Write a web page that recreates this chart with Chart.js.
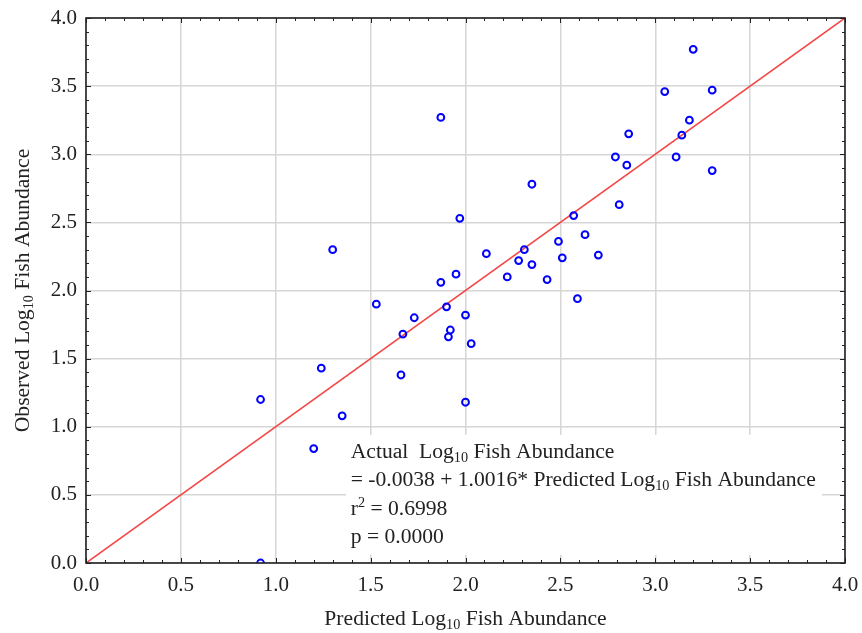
<!DOCTYPE html>
<html>
<head>
<meta charset="utf-8">
<script src="https://cdn.jsdelivr.net/npm/chart.js@4.4.1/dist/chart.umd.min.js"></script>
<style>
  html, body { margin: 0; padding: 0; background: #fff; }
  #wrap { width: 862px; height: 633px; }
</style>
</head>
<body>
<div id="wrap"><canvas id="fishChart"></canvas></div>
<script>
// predicted vs observed log10 fish abundance
const predicted = [3.20, 3.05, 3.30, 3.18, 3.14, 2.86, 2.79, 2.85, 3.11, 3.30,
                   1.87, 2.35, 2.81, 2.57, 1.97, 2.63, 2.49, 2.31, 2.11, 2.70,
                   2.28, 2.51, 2.35, 2.22, 2.43, 1.95, 1.87, 2.59, 1.90, 2.00,
                   1.30, 1.53, 1.73, 1.67, 1.24, 1.66, 0.92, 1.35, 1.20, 0.92,
                   1.92, 1.91, 2.03, 2.00];
const observed  = [3.77, 3.46, 3.47, 3.25, 3.14, 3.15, 2.98, 2.92, 2.98, 2.88,
                   3.27, 2.78, 2.63, 2.55, 2.53, 2.41, 2.36, 2.30, 2.27, 2.26,
                   2.22, 2.24, 2.19, 2.10, 2.08, 2.12, 2.06, 1.94, 1.88, 1.82,
                   2.30, 1.90, 1.80, 1.68, 1.43, 1.38, 1.20, 1.08, 0.84, 0.00,
                   1.71, 1.66, 1.61, 1.18];
// fitted line end points
const fitX = [0, 4];
const fitY = [0, 4];

const axisMin = 0;
const axisMax = 4;
const axisStep = 0.5;

const xTitle = [['Predicted Log'], ['10', 'sub'], [' Fish Abundance']];
const yTitle = [['Observed Log'], ['10', 'sub'], [' Fish Abundance']];
const statLines = [
  [['Actual  Log'], ['10', 'sub'], [' Fish Abundance']],
  [['= -0.0038 + 1.0016* Predicted Log'], ['10', 'sub'], [' Fish Abundance']],
  [['r'], ['2', 'sup'], [' = 0.6998']],
  [['p = 0.0000']]
];

const FONT = '"Liberation Serif", "Times New Roman", serif';
const TEXT = '#222';
const LABEL_SIZE = 21.6;

function drawRich(ctx, parts, x, y, size) {
  let cx = x;
  parts.forEach(([t, kind]) => {
    let s = size, dy = 0;
    if (kind === 'sub') { s = size * 0.66; dy = 4; }
    if (kind === 'sup') { s = size * 0.66; dy = -8; }
    ctx.font = s + 'px ' + FONT;
    ctx.fillText(t, cx, y + dy);
    cx += ctx.measureText(t).width;
  });
  return cx - x;
}

function richWidth(ctx, parts, size) {
  let w = 0;
  parts.forEach(([t, kind]) => {
    const s = kind ? size * 0.66 : size;
    ctx.font = s + 'px ' + FONT;
    w += ctx.measureText(t).width;
  });
  return w;
}

const framePlugin = {
  id: 'frame',
  beforeDatasetsDraw(chart) {
    const { ctx, scales: { x, y } } = chart;
    // blank box behind the regression text
    ctx.save();
    ctx.fillStyle = '#fff';
    const left = x.getPixelForValue(1.37);
    const top = y.getPixelForValue(0.94);
    ctx.fillRect(left, top, 476, 120);
    ctx.restore();
  },
  afterDraw(chart) {
    const { ctx, chartArea: a, scales: { x, y } } = chart;
    ctx.save();
    // inward tick marks on all four sides
    ctx.strokeStyle = '#222';
    ctx.lineWidth = 1;
    ctx.beginPath();
    for (let i = 0; i <= 40; i++) {
      const v = i / 10;
      const len = i % 5 === 0 ? 5 : 3;
      const px = Math.round(x.getPixelForValue(v)) + 0.5;
      const py = Math.round(y.getPixelForValue(v)) + 0.5;
      ctx.moveTo(px, a.bottom); ctx.lineTo(px, a.bottom - len);
      ctx.moveTo(px, a.top); ctx.lineTo(px, a.top + len);
      ctx.moveTo(a.left, py); ctx.lineTo(a.left + len, py);
      ctx.moveTo(a.right, py); ctx.lineTo(a.right - len, py);
    }
    ctx.stroke();
    // frame
    ctx.lineWidth = 1.6;
    ctx.strokeRect(a.left, a.top, a.right - a.left, a.bottom - a.top);

    // regression text
    ctx.fillStyle = TEXT;
    ctx.textBaseline = 'alphabetic';
    ctx.textAlign = 'left';
    const tx = x.getPixelForValue(1.395);
    const ty = y.getPixelForValue(0.771);
    statLines.forEach((line, i) => drawRich(ctx, line, tx, ty + i * 28.5, LABEL_SIZE));

    // axis titles
    const xw = richWidth(ctx, xTitle, LABEL_SIZE);
    drawRich(ctx, xTitle, (a.left + a.right) / 2 - xw / 2, 625, LABEL_SIZE);
    const yw = richWidth(ctx, yTitle, LABEL_SIZE);
    ctx.translate(29, (a.top + a.bottom) / 2 + yw / 2);
    ctx.rotate(-Math.PI / 2);
    drawRich(ctx, yTitle, 0, 0, LABEL_SIZE);
    ctx.restore();
  }
};

Chart.defaults.font.family = FONT;
Chart.defaults.font.size = 21;
Chart.defaults.color = TEXT;

const ctx = document.getElementById('fishChart').getContext('2d');
new Chart(ctx, {
  type: 'scatter',
  data: {
    datasets: [
      {
        label: 'Observed',
        data: predicted.map((p, i) => ({ x: p, y: observed[i] })),
        pointStyle: 'circle',
        pointRadius: 3.4,
        pointBorderWidth: 2,
        borderColor: '#0000ff',
        backgroundColor: 'rgba(255,255,255,0)',
        pointHoverRadius: 3.4,
        clip: 0
      },
      {
        type: 'line',
        label: 'Fit',
        data: fitX.map((v, i) => ({ x: v, y: fitY[i] })),
        borderColor: '#f44848',
        borderWidth: 1.6,
        pointRadius: 0,
        fill: false
      }
    ]
  },
  options: {
    responsive: true,
    maintainAspectRatio: false,
    animation: false,
    layout: { padding: { top: 18, right: 17, left: 0, bottom: 0 } },
    plugins: {
      legend: { display: false },
      tooltip: { enabled: false }
    },
    scales: {
      x: {
        type: 'linear',
        min: axisMin, max: axisMax,
        afterFit: s => { s.height = 70; s.paddingLeft = 0; s.paddingRight = 0; },
        border: { display: false },
        grid: { color: '#d6d6d6', lineWidth: 1.5, drawTicks: false },
        ticks: { stepSize: axisStep, padding: 10, callback: v => v.toFixed(1) }
      },
      y: {
        type: 'linear',
        min: axisMin, max: axisMax,
        afterFit: s => { s.width = 86; s.paddingTop = 0; s.paddingBottom = 0; },
        border: { display: false },
        grid: { color: '#d6d6d6', lineWidth: 1.5, drawTicks: false },
        ticks: { stepSize: axisStep, padding: 9, callback: v => v.toFixed(1) }
      }
    }
  },
  plugins: [framePlugin]
});
</script>
</body>
</html>
